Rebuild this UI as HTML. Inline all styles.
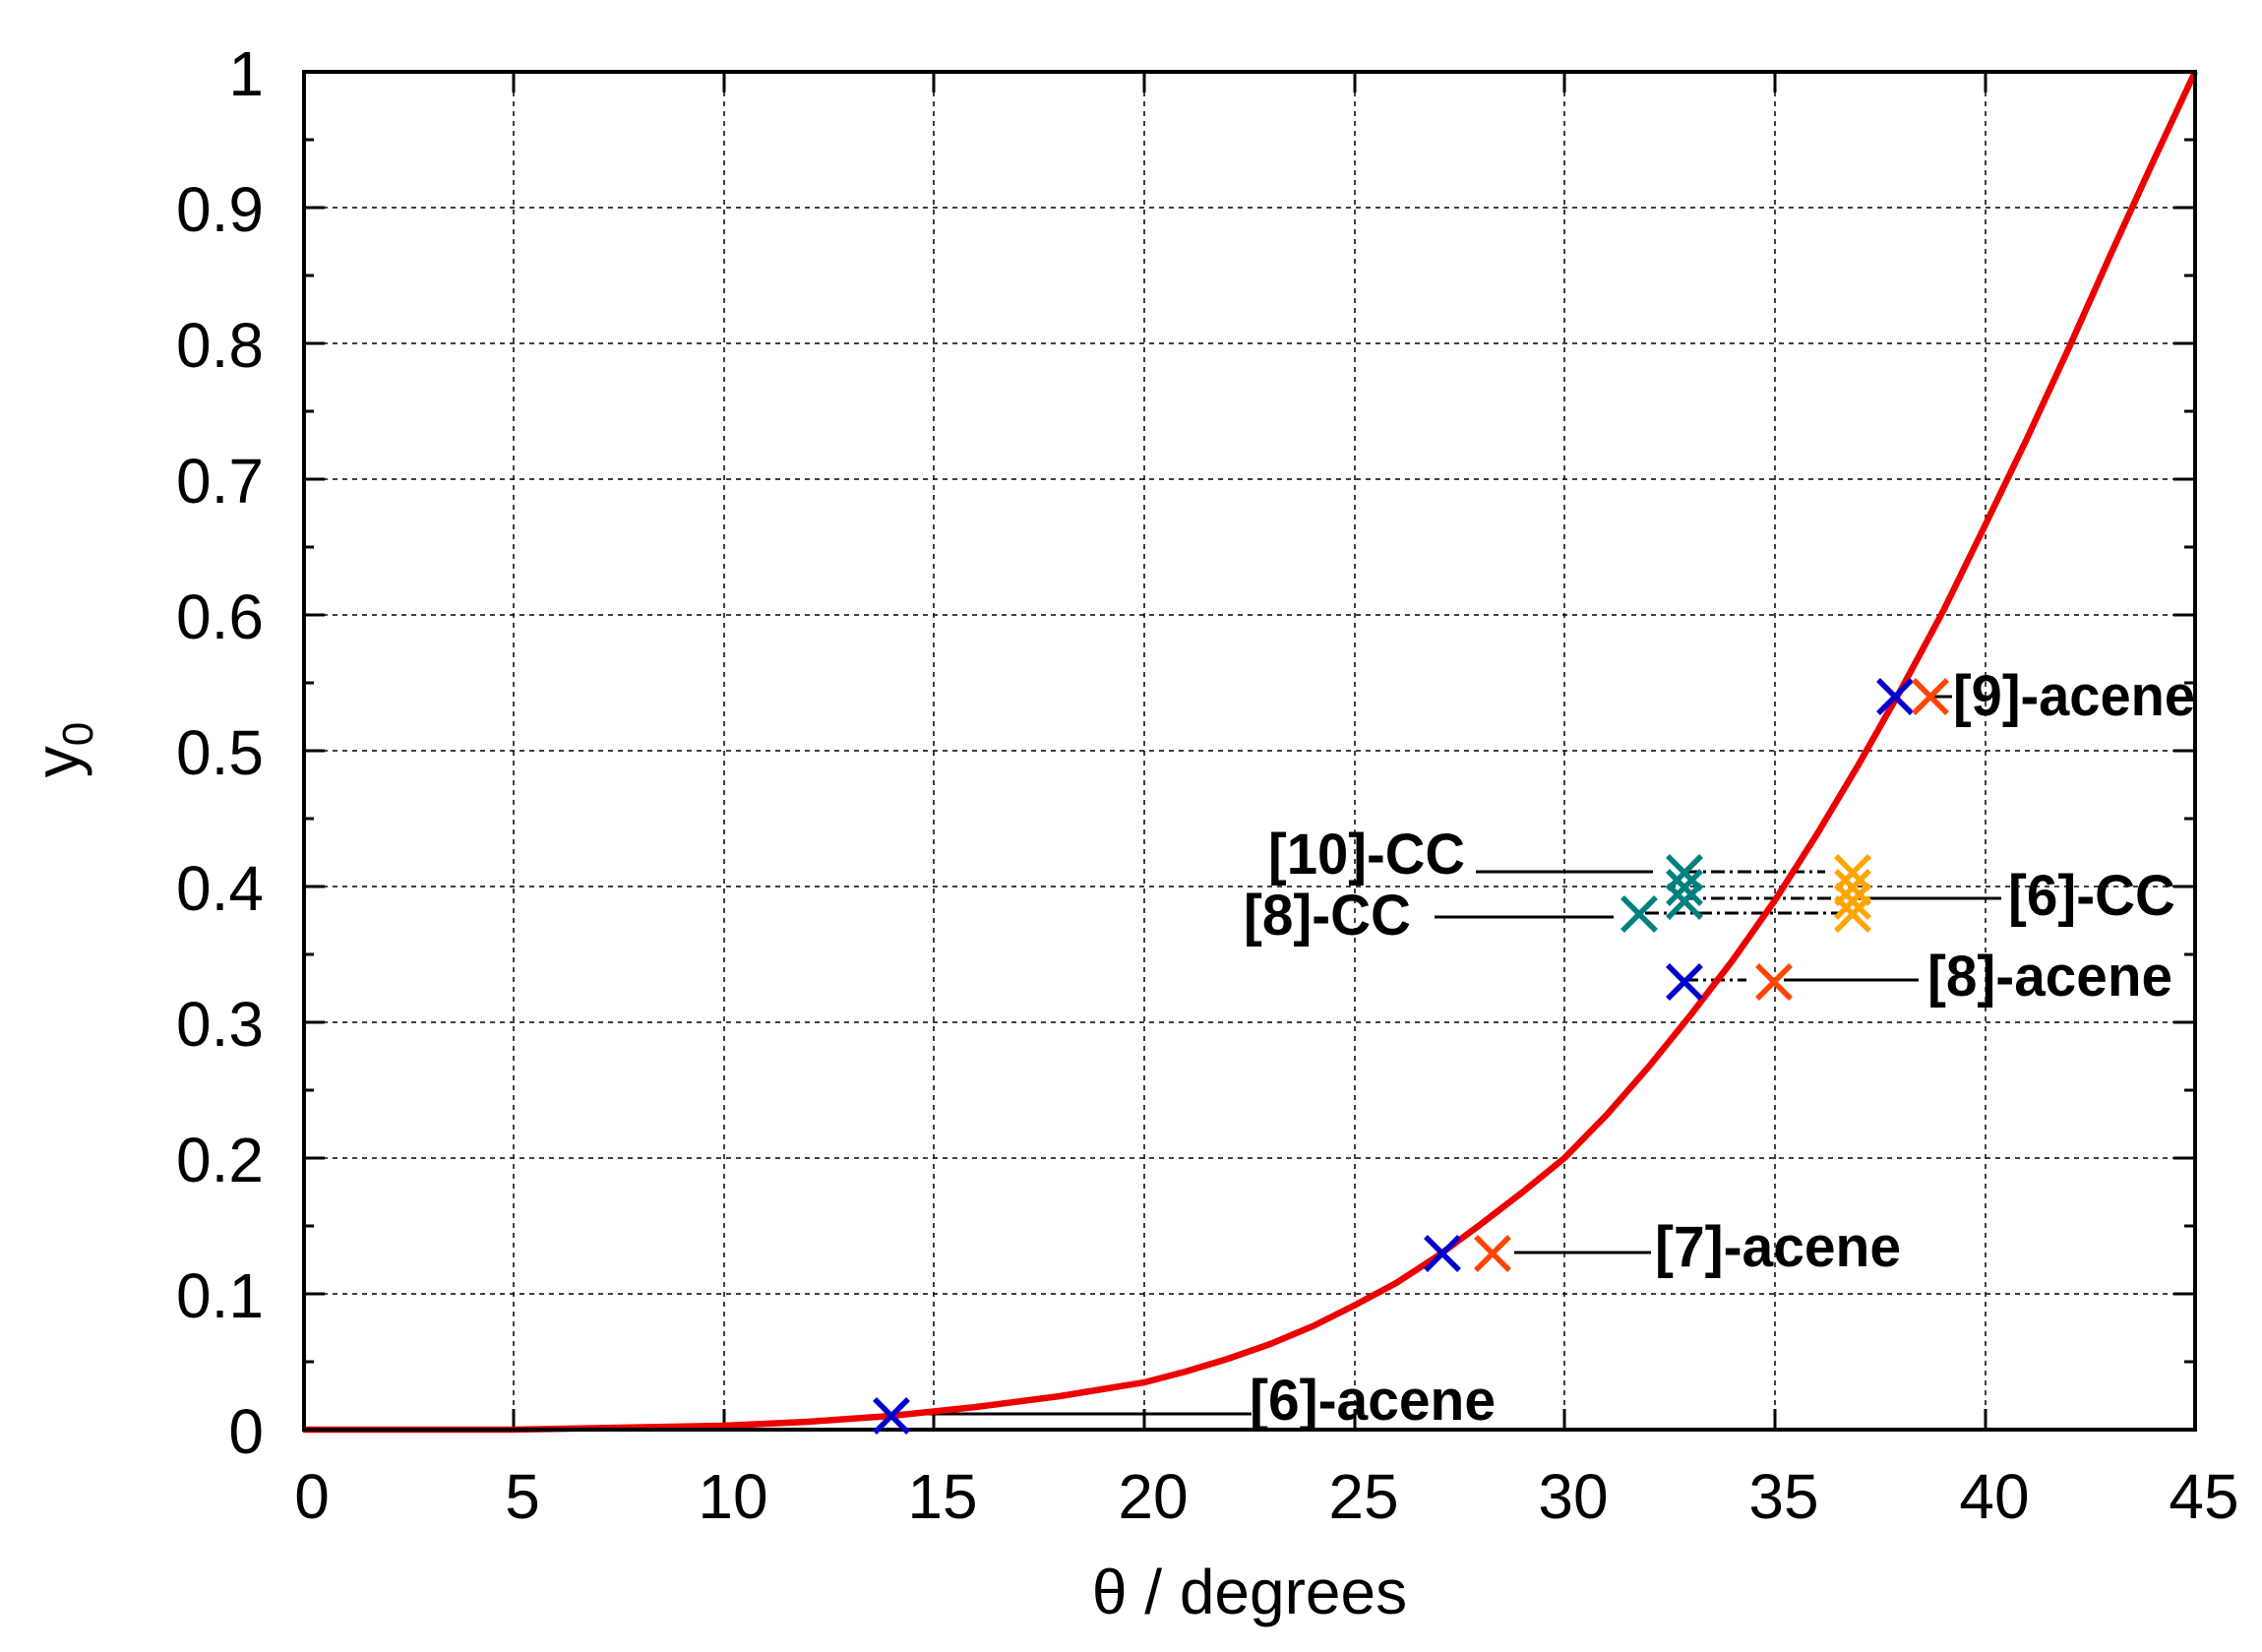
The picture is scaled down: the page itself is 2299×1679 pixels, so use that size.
<!DOCTYPE html>
<html><head><meta charset="utf-8"><style>
html,body{margin:0;padding:0;background:#fff;}
svg{display:block;}
text{font-family:"Liberation Sans",sans-serif;}
</style></head><body>
<svg width="2299" height="1679" viewBox="0 0 2299 1679" xmlns="http://www.w3.org/2000/svg">
<g stroke="#000" stroke-width="1.5" stroke-dasharray="5,5" fill="none">
<line x1="522" y1="73" x2="522" y2="1453"/><line x1="736" y1="73" x2="736" y2="1453"/>
<line x1="949" y1="73" x2="949" y2="1453"/><line x1="1163" y1="73" x2="1163" y2="1453"/>
<line x1="1377" y1="73" x2="1377" y2="1453"/><line x1="1590" y1="73" x2="1590" y2="1453"/>
<line x1="1804" y1="73" x2="1804" y2="1453"/><line x1="2018" y1="73" x2="2018" y2="1453"/>
<line x1="308" y1="1315" x2="2231" y2="1315"/><line x1="308" y1="1177" x2="2231" y2="1177"/>
<line x1="308" y1="1039" x2="2231" y2="1039"/><line x1="308" y1="901" x2="2231" y2="901"/>
<line x1="308" y1="763" x2="2231" y2="763"/><line x1="308" y1="625" x2="2231" y2="625"/>
<line x1="308" y1="487" x2="2231" y2="487"/><line x1="308" y1="349" x2="2231" y2="349"/>
<line x1="308" y1="211" x2="2231" y2="211"/>
</g>
<g stroke="#000" stroke-width="3">
<path d="M522 1453v-21M736 1453v-21M949 1453v-21M1163 1453v-21M1377 1453v-21M1590 1453v-21M1804 1453v-21M2018 1453v-21
M522 73v21M736 73v21M949 73v21M1163 73v21M1377 73v21M1590 73v21M1804 73v21M2018 73v21"/>
<path d="M308 1315h22M308 1177h22M308 1039h22M308 901h22M308 763h22M308 625h22M308 487h22M308 349h22M308 211h22
M2231 1315h-22M2231 1177h-22M2231 1039h-22M2231 901h-22M2231 763h-22M2231 625h-22M2231 487h-22M2231 349h-22M2231 211h-22"/>
<path d="M308 1384h11M308 1246h11M308 1108h11M308 970h11M308 832h11M308 694h11M308 556h11M308 418h11M308 280h11M308 142h11
M2231 1384h-11M2231 1246h-11M2231 1108h-11M2231 970h-11M2231 832h-11M2231 694h-11M2231 556h-11M2231 418h-11M2231 280h-11M2231 142h-11"/>
</g>
<g stroke="#000" stroke-width="3" fill="none">
<line x1="906" y1="1437" x2="1272" y2="1437"/>
<line x1="1539" y1="1273" x2="1678" y2="1273"/>
<line x1="1813" y1="996" x2="1950" y2="996"/>
<line x1="1500" y1="886" x2="1680" y2="886"/>
<line x1="1458" y1="932" x2="1640" y2="932"/>
<line x1="1883" y1="913" x2="2034" y2="913"/>
<line x1="1958" y1="708" x2="1984" y2="708"/>
</g>
<g stroke="#000" stroke-width="3" fill="none" stroke-dasharray="14,5,3,5">
<line x1="1712" y1="886" x2="1855" y2="886"/>
<line x1="1712" y1="913" x2="1870" y2="913"/>
<line x1="1672" y1="928" x2="1870" y2="928"/>
<line x1="1712" y1="996" x2="1775" y2="996"/>
</g>
<polyline fill="none" stroke="#ee0000" stroke-width="6.5" stroke-linejoin="round" points="308,1453 522,1453 735,1449 821,1445 906,1439 992,1430 1077,1419 1163,1405 1205,1394 1248,1381 1291,1366 1334,1348 1376,1327 1419,1304 1462,1276 1504,1245 1547,1212 1590,1177 1633,1133 1675,1085 1718,1032 1761,976 1804,915 1846,849 1889,777 1932,701 1975,621 2017,535 2060,446 2103,353 2145,259 2188,165 2231,73"/>
<rect x="309" y="73" width="1922" height="1380" fill="none" stroke="#000" stroke-width="4"/>
<defs><path id="x" d="M-17,-17L17,17M-17,17L17,-17" stroke-width="5.5" fill="none"/></defs>
<g stroke="#0000cc"><use href="#x" x="906" y="1439"/><use href="#x" x="1466" y="1274"/><use href="#x" x="1712" y="998"/><use href="#x" x="1926" y="708"/></g>
<g stroke="#ff4500"><use href="#x" x="1517" y="1274"/><use href="#x" x="1803" y="998"/><use href="#x" x="1962" y="708"/></g>
<g stroke="#008080"><use href="#x" x="1712" y="887"/><use href="#x" x="1712" y="902"/><use href="#x" x="1712" y="916"/><use href="#x" x="1666" y="929"/></g>
<g stroke="#ffa500"><use href="#x" x="1883" y="887"/><use href="#x" x="1883" y="902"/><use href="#x" x="1883" y="916"/><use href="#x" x="1883" y="929"/></g>
<g font-size="64" text-anchor="end" fill="#000">
<text x="268" y="1477">0</text><text x="268" y="1339">0.1</text><text x="268" y="1201">0.2</text>
<text x="268" y="1063">0.3</text><text x="268" y="925">0.4</text><text x="268" y="787">0.5</text>
<text x="268" y="649">0.6</text><text x="268" y="511">0.7</text><text x="268" y="373">0.8</text>
<text x="268" y="235">0.9</text><text x="268" y="97">1</text>
</g>
<g font-size="64" text-anchor="middle" fill="#000">
<text x="317" y="1543">0</text><text x="531" y="1543">5</text><text x="745" y="1543">10</text>
<text x="958" y="1543">15</text><text x="1172" y="1543">20</text><text x="1386" y="1543">25</text>
<text x="1599" y="1543">30</text><text x="1813" y="1543">35</text><text x="2027" y="1543">40</text>
<text x="2240" y="1543">45</text>
</g>
<text x="1270" y="1640" font-size="64" text-anchor="middle">θ / degrees</text>
<text transform="translate(80,762) rotate(-90)" font-size="64" text-anchor="middle">y<tspan font-size="44" dy="14">0</tspan></text>
<g font-size="58" font-weight="bold" fill="#000">
<text x="1985" y="727" textLength="246" lengthAdjust="spacingAndGlyphs">[9]-acene</text>
<text x="1289" y="888" textLength="200" lengthAdjust="spacingAndGlyphs">[10]-CC</text>
<text x="1264" y="950" textLength="170" lengthAdjust="spacingAndGlyphs">[8]-CC</text>
<text x="2041" y="930" textLength="170" lengthAdjust="spacingAndGlyphs">[6]-CC</text>
<text x="1959" y="1012" textLength="249" lengthAdjust="spacingAndGlyphs">[8]-acene</text>
<text x="1682" y="1287" textLength="250" lengthAdjust="spacingAndGlyphs">[7]-acene</text>
<text x="1270" y="1443" textLength="250" lengthAdjust="spacingAndGlyphs">[6]-acene</text>
</g>
</svg>
</body></html>
